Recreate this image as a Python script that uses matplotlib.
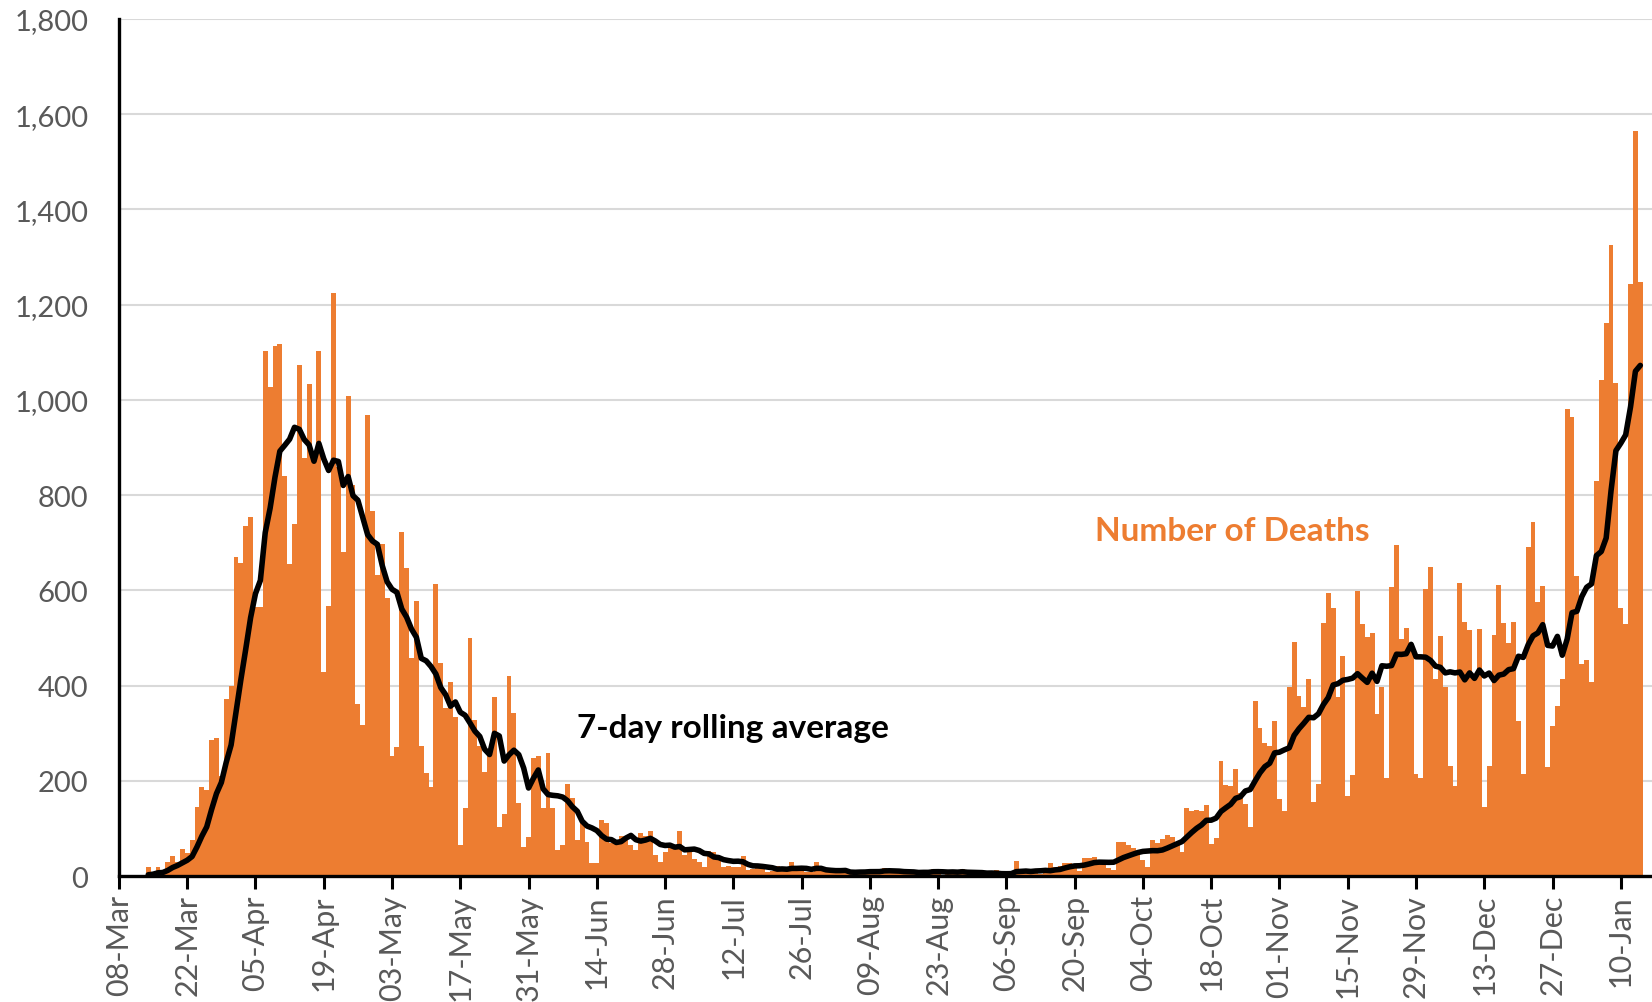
import numpy as np
import pandas as pd
import matplotlib
matplotlib.use("Agg")
import matplotlib.pyplot as plt
from matplotlib.ticker import FuncFormatter

# -------------------------
# Data: daily deaths, 08-Mar-2020 to 14-Jan-2021
# -------------------------

start_date = "2020-03-08"

deaths_mar_apr = [0, 0, 0, 0, 0, 0,
                  18, 9, 20, 5, 30, 43, 30, 56, 48, 75,
                  145, 188, 180, 286, 290, 211, 372, 399,
                  670, 657, 735, 754, 565, 565,
                  1103, 1028, 1113, 1118, 840, 655, 740, 1073, 878, 1034,
                  878, 1102, 429, 568, 1224,
                  860, 681, 1009, 821, 362, 317, 968, 767, 632]

deaths_may_jun = [697, 583, 252, 272, 723, 646, 457, 577, 273, 216,
                  188, 613, 447, 352, 408, 335, 65, 143, 499, 328,
                  274, 219, 258, 377, 104, 130, 420, 342, 153, 62,
                  83, 247, 252, 142, 258, 142, 55, 65, 193, 163,
                  76, 111, 72, 27, 27, 118, 111, 69, 69]

deaths_summer = [85, 80, 65, 55, 90, 85, 94, 45, 30, 50,
                 60, 60, 95, 45, 50, 36, 29, 18, 52, 50,
                 36, 20, 22, 18, 20, 43, 12, 15, 18, 15,
                 8, 11, 22, 15, 11, 30, 15, 11, 8, 8,
                 30, 11, 8, 8, 6, 8, 11, 6, 8, 11, 9, 11,
                 8, 12, 16, 10, 9, 6, 4, 5, 10, 8,
                 12, 9, 15, 5, 3, 6, 10, 9, 15, 8, 3, 2]

deaths_sep = [3, 3, 10, 12, 2, 2, 3, 32, 8, 14, 6, 9, 5, 9, 27,
              20, 21, 27, 27, 18, 11, 37, 37, 40, 34, 25, 17, 13, 71, 71]

deaths_oct = [66, 59, 49, 33, 19, 76, 70, 77, 87, 81, 65, 50, 143, 137, 138,
              136, 150, 67, 80, 241, 191, 189, 224, 174, 151, 102, 367, 310,
              280, 274, 326]

deaths_nov = [162, 136, 397, 492, 378, 355, 413, 156, 194, 532, 595, 563,
              376, 462, 168, 213, 598, 529, 501, 511, 341, 398, 206, 608,
              696, 498, 521, 479, 215, 205]

deaths_dec = [603, 648, 414, 504, 397, 231, 189, 616, 533, 516, 424, 519,
              144, 232, 506, 612, 532, 489, 534, 326, 215, 691, 744, 575,
              610, 230, 316, 357, 414, 981, 964]

deaths_jan = [630, 445, 454, 407, 830, 1041, 1162, 1325, 1035, 563, 529,
              1243, 1564, 1248]

deaths = (deaths_mar_apr + deaths_may_jun + deaths_summer + deaths_sep
          + deaths_oct + deaths_nov + deaths_dec + deaths_jan)

dates = pd.date_range(start_date, periods=len(deaths), freq="D")

df = pd.DataFrame({"Deaths": deaths}, index=dates)
df["Rolling"] = df["Deaths"].rolling(7, min_periods=1).mean()

# -------------------------
# Style
# -------------------------

orange = "#ED7D31"
grey_text = "#595959"
font = ["Lato", "DejaVu Sans"]

fig = plt.figure(figsize=(16.52, 10.03), dpi=100)
ax = fig.add_axes([0.072, 0.1256, 0.928, 0.8545])

# -------------------------
# Bars and rolling line
# -------------------------

ax.bar(df.index, df["Deaths"], width=1.0, color=orange, linewidth=0, zorder=2)

line_part = df.iloc[6:]
ax.plot(line_part.index, line_part["Rolling"], color="black", linewidth=4.0,
        solid_joinstyle="round", solid_capstyle="round", zorder=3)

# -------------------------
# Axes
# -------------------------

x0 = pd.Timestamp(start_date)
ax.set_xlim(x0, x0 + pd.Timedelta(days=314.4))
ax.set_ylim(0, 1800)

ax.set_yticks(np.arange(0, 1801, 200))
ax.yaxis.set_major_formatter(FuncFormatter(lambda v, p: f"{int(v):,}"))
ax.yaxis.grid(True, color="#D9D9D9", linewidth=1.5, zorder=0)
ax.set_axisbelow(True)

tick_dates = pd.date_range(start_date, "2021-01-10", freq="14D")
ax.set_xticks(tick_dates)
ax.set_xticklabels([d.strftime("%d-%b") for d in tick_dates], rotation=90)

ax.tick_params(axis="x", direction="out", length=9, width=2.2,
               color="black", pad=4, labelsize=22, labelcolor=grey_text)
ax.tick_params(axis="y", length=0, pad=22, labelsize=21, labelcolor=grey_text)

for lab in ax.get_xticklabels() + ax.get_yticklabels():
    lab.set_family(font)

for side in ["top", "right"]:
    ax.spines[side].set_visible(False)
ax.spines["left"].set_linewidth(2.4)
ax.spines["bottom"].set_linewidth(2.4)
ax.spines["left"].set_zorder(4)
ax.spines["bottom"].set_zorder(4)

# -------------------------
# Labels
# -------------------------

ax.text(x0 + pd.Timedelta(days=126), 311, "7-day rolling average",
        ha="center", va="center", fontsize=24, fontweight="bold",
        color="black", family=font)

ax.text(x0 + pd.Timedelta(days=228.3), 725, "Number of Deaths",
        ha="center", va="center", fontsize=24, fontweight="bold",
        color=orange, family=font)

fig.savefig("out.png", dpi=100)
